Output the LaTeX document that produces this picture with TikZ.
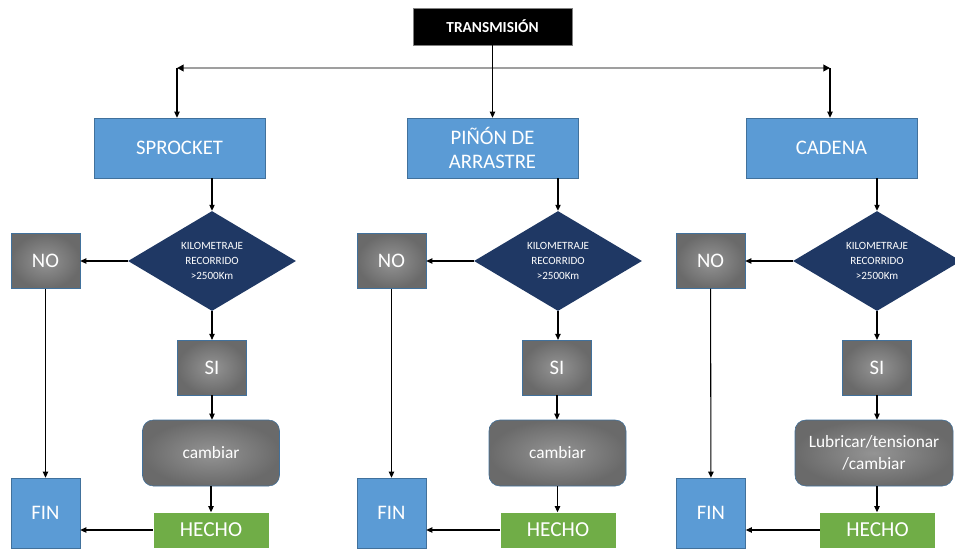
\documentclass[tikz,border=0pt]{standalone}
\usepackage{fontspec}
\setmainfont{Carlito}
\usepackage{tikz}
\usetikzlibrary{arrows.meta,shapes.geometric}

\definecolor{boxblue}{HTML}{5B9BD5}
\definecolor{edgeblue}{HTML}{41719C}
\definecolor{navy}{HTML}{1F3864}
\definecolor{okgreen}{HTML}{70AD47}
\definecolor{greyin}{HTML}{949494}
\definecolor{greyout}{HTML}{6A6A6A}

\begin{document}
\begin{tikzpicture}[x=0.75pt,y=-0.75pt,
  every node/.style={inner sep=0pt,text=white,align=center},
  titlebox/.style={rectangle,fill=black,draw=gray,minimum width=119.25pt,minimum height=27.75pt,font=\bfseries\fontsize{11.5}{13}\selectfont},
  partbox/.style={rectangle,fill=boxblue,draw=edgeblue,minimum width=128.25pt,minimum height=45pt,font=\fontsize{15.5}{18}\selectfont},
  askbox/.style={diamond,fill=navy,minimum width=126pt,minimum height=73.5pt,font=\fontsize{8.3}{11.5}\selectfont},
  greybox/.style={rectangle,shading=radial,inner color=greyin,outer color=greyout,draw=edgeblue,minimum width=51.75pt,minimum height=41pt,font=\fontsize{15.5}{18}\selectfont},
  actbox/.style={rectangle,rounded corners=8pt,shading=radial,inner color=greyin,outer color=greyout,draw=edgeblue,minimum width=102.75pt,minimum height=49.5pt,font=\fontsize{13}{17}\selectfont},
  donebox/.style={rectangle,fill=okgreen,minimum width=86.25pt,minimum height=26.25pt,font=\fontsize{16}{18}\selectfont},
  finbox/.style={rectangle,fill=boxblue,draw=edgeblue,minimum width=51.75pt,minimum height=52.5pt,font=\fontsize{15.5}{18}\selectfont},
  link/.style={black,line width=0.8pt,-{Triangle[length=4.5pt,width=4pt]}},
  bar/.style={gray!75,line width=2pt,{Triangle[length=5pt,width=5pt,color=black]}-{Triangle[length=5pt,width=5pt,color=black]}}]
\useasboundingbox (0,0) rectangle (955,550);

% top
\node[titlebox] (title) at (492.5,26.5) {TRANSMISIÓN};
\coordinate (barL) at (177,68);
\coordinate (barR) at (830,68);
\node[partbox] (sprocket) at (179.5,148) {SPROCKET};
\node[partbox] (pinon) at (492.5,148) {PIÑÓN DE\\ARRASTRE};
\node[partbox] (cadena) at (831.5,148) {CADENA};
\draw[bar] (barL) -- (barR);
\draw[link] (title) -- (pinon);
\draw[link] (barL) -- (barL |- sprocket.north);
\draw[link] (barR) -- (barR |- cadena.north);

% left column
\node[askbox] (ask1) at (212,261) {KILOMETRAJE\\RECORRIDO\\>2500Km};
\node[greybox] (no1) at (45.5,261) {NO};
\node[greybox] (si1) at (212,367.5) {SI};
\node[actbox] (act1) at (211,453) {cambiar};
\node[donebox] (done1) at (211,530) {HECHO};
\node[finbox] (fin1) at (45.5,513) {FIN};
\draw[link] (ask1.north |- sprocket.south) -- (ask1.north);
\draw[link] (ask1.west) -- (no1.east);
\draw[link] (no1) -- (fin1);
\draw[link] (ask1) -- (si1);
\draw[link] (si1.south) -- (si1.south |- act1.north);
\draw[link] (act1.south) -- (act1.south |- done1.north);
\draw[link] (done1.west) -- (done1.west -| fin1.east);

% middle column
\node[askbox] (ask2) at (558,261) {KILOMETRAJE\\RECORRIDO\\>2500Km};
\node[greybox] (no2) at (391.5,261) {NO};
\node[greybox] (si2) at (557,367.5) {SI};
\node[actbox] (act2) at (557.5,453) {cambiar};
\node[donebox] (done2) at (558,530) {HECHO};
\node[finbox] (fin2) at (391.5,513) {FIN};
\draw[link] (ask2.north |- pinon.south) -- (ask2.north);
\draw[link] (ask2.west) -- (no2.east);
\draw[link] (no2) -- (fin2);
\draw[link] (ask2.south) -- (ask2.south |- si2.north);
\draw[link] (si2.south) -- (si2.south |- act2.north);
\draw[link] (act2.south) -- (act2.south |- done2.north);
\draw[link] (done2.west) -- (done2.west -| fin2.east);

% right column
\node[askbox] (ask3) at (877,261) {KILOMETRAJE\\RECORRIDO\\>2500Km};
\node[greybox] (no3) at (710.5,261) {NO};
\node[greybox] (si3) at (877,367.5) {SI};
\node[actbox,minimum width=118.5pt] (act3) at (874,453) {Lubricar/tensionar\\/cambiar};
\node[donebox] (done3) at (877.5,530) {HECHO};
\node[finbox] (fin3) at (711,513) {FIN};
\draw[link] (ask3.north |- cadena.south) -- (ask3.north);
\draw[link] (ask3.west) -- (no3.east);
\draw[link] (no3) -- (fin3);
\draw[link] (ask3) -- (si3);
\draw[link] (si3.south) -- (si3.south |- act3.north);
\draw[link] (act3.south -| si3.south) -- (si3.south |- done3.north);
\draw[link] (done3.west) -- (done3.west -| fin3.east);
\end{tikzpicture}
\end{document}
